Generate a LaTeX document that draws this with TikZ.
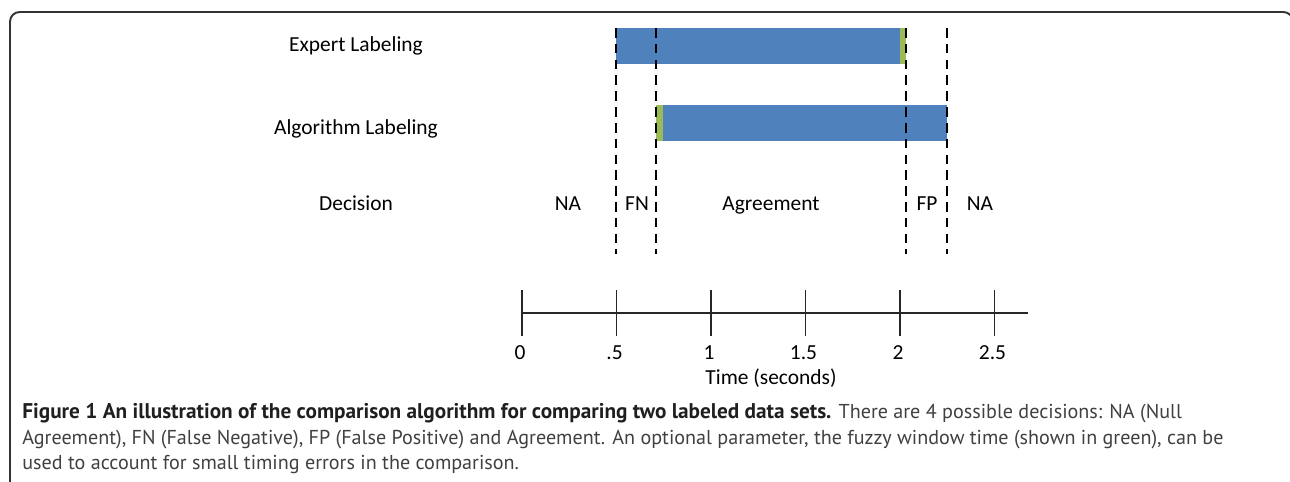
\documentclass[tikz,border=0pt]{standalone}
\usepackage{fontspec}
\setmainfont{Carlito}
\newfontfamily\capfont{PT Sans}
\usepackage{xcolor}
\usepackage{tikz}
\usetikzlibrary{positioning}
\definecolor{barblue}{HTML}{4F81BD}
\definecolor{fuzzgreen}{HTML}{9BBB59}
\definecolor{framegray}{HTML}{333333}
\definecolor{captext}{HTML}{404040}
\tikzset{
	lbl/.style={font=\fontsize{12.2}{15}\selectfont, inner sep=0pt, anchor=base},
	bar/.style={fill=barblue},
	fuzz/.style={fill=fuzzgreen},
	cut/.style={draw=black, line width=1.4pt, dash pattern=on 5.5pt off 3.5pt},
	tck/.style={draw=black!85, line width=1pt},
	captxt/.style={font=\capfont\fontsize{11.45}{14.5}\selectfont, text=captext,
		anchor=base west, inner sep=0pt},
}

\begin{document}
\begin{tikzpicture}[x=0.02cm, y=-0.02cm]
	\useasboundingbox (0,0) rectangle (1290,481);
	% frame around figure and caption
	\draw[framegray, line width=1.1pt, rounded corners=5.5pt] (10,495) -- (10,12) -- (1293,12) -- (1293,495);

	% row labels
	\node[lbl] at (356,51) (expert) {Expert Labeling};
	\node[lbl] at (356,134) (algo) {Algorithm Labeling};
	\node[lbl] at (356,210) (dec) {Decision};

	% labeled segments, fuzzy window in green
	\fill[bar] (616,28) rectangle (900,64);
	\fill[fuzz] (900,28) rectangle (906,64);
	\fill[fuzz] (656,105) rectangle (663,141);
	\fill[bar] (663,105) rectangle (947,141);

	% decision boundaries
	\foreach \x in {616,656,906,947}
		\draw[cut] (\x,28) -- (\x,254);

	% decisions
	\node[lbl] at (568,210) (na1) {NA};
	\node[lbl] at (637,210) (fn) {FN};
	\node[lbl] at (771,210) (agr) {Agreement};
	\node[lbl] at (927,210) (fp) {FP};
	\node[lbl] at (980,210) (na2) {NA};

	% time axis
	\coordinate (ax0) at (522,313);
	\coordinate (ax1) at (1028,313);
	\draw[tck] (ax0) -- (ax1);
	\foreach \t/\txt in {0/0, 0.5/.5, 1/1, 1.5/1.5, 2/2, 2.5/2.5} {
		\draw[tck] (522+189*\t,290) -- (522+189*\t,336);
		\node[lbl] at (520+189*\t,359) {\txt};
	}
	\node[lbl] at (771,384) (tlab) {Time (seconds)};

	% caption
	\node[captxt] at (22,418) (cap1) {{\fontsize{12.1}{14.5}\selectfont\bfseries\color{black!88}Figure 1 An illustration of the comparison algorithm for comparing two labeled data sets.} There are 4 possible decisions: NA (Null};
	\node[captxt] at (22,444) (cap2) {Agreement), FN (False Negative), FP (False Positive) and Agreement. An optional parameter, the fuzzy window time (shown in green), can be};
	\node[captxt] at (22,469) (cap3) {used to account for small timing errors in the comparison.};
\end{tikzpicture}
\end{document}
